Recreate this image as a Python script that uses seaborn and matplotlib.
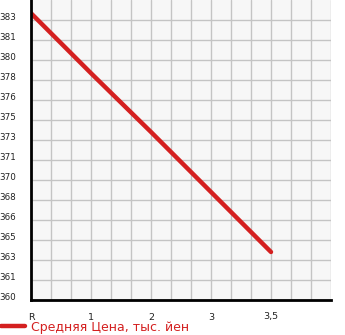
import matplotlib
matplotlib.use("Agg")
import matplotlib.pyplot as plt
import seaborn as sns
import numpy as np
import pandas as pd

# data
age_labels = ['R', '1', '2', '3', '3,5']
prices = [383.9, 378.9, 374.0, 369.0, 364.0]
y_min, y_max = 360, 385
legend_label = 'Средняя Цена, тыс. йен'

sns.set_style('white')
plt.rcParams['font.family'] = ['DejaVu Sans']

slot = 3  # tick slots between labelled ages
df = pd.DataFrame({'pos': [i * slot for i in range(len(age_labels))], 'price': prices})

fig = plt.figure(figsize=(3.45, 3.35), dpi=100)
ax = fig.add_axes([31 / 345, 35 / 335, 300 / 345, 300 / 335])
ax.set_facecolor('#f7f7f7')

sns.lineplot(data=df, x='pos', y='price', ax=ax, color='#d42020', linewidth=3.2,
             label=legend_label, solid_capstyle='round')

n_slots = 15
ax.set_xlim(0, n_slots)
ax.set_ylim(y_min, y_max)
ax.set_xticks(np.arange(0, n_slots + 1))
xl = [''] * (n_slots + 1)
for i, lab in enumerate(age_labels):
    xl[i * slot] = lab
ax.set_xticklabels(xl)
yt = np.linspace(y_min, y_max, 16)
ax.set_yticks(yt[:-1])
ax.set_yticklabels([str(int(v + 1e-9)) for v in yt[:-1]])
for t in ax.get_yticklabels():
    t.set_verticalalignment('baseline')

ax.grid(True, color='#c4c4c4', linewidth=1)
ax.set_axisbelow(True)
ax.tick_params(axis='both', which='both', length=5, width=1, color='black',
               labelcolor='#222222', direction='out')
ax.tick_params(axis='y', pad=5.5, labelsize=6.3)
ax.tick_params(axis='x', pad=4, labelsize=6.8)
ax.set_xlabel('')
ax.set_ylabel('')
for s in ['top', 'right']:
    ax.spines[s].set_visible(False)
for s in ['left', 'bottom']:
    ax.spines[s].set_color('black')
    ax.spines[s].set_linewidth(2)

ax.legend(loc='lower left', bbox_to_anchor=(0, 0.0), bbox_transform=fig.transFigure,
          frameon=False, borderaxespad=0, borderpad=0.1, handlelength=1.9,
          handletextpad=0.5, fontsize=9, labelcolor='#d42020')

fig.savefig('out.png', dpi=100)
